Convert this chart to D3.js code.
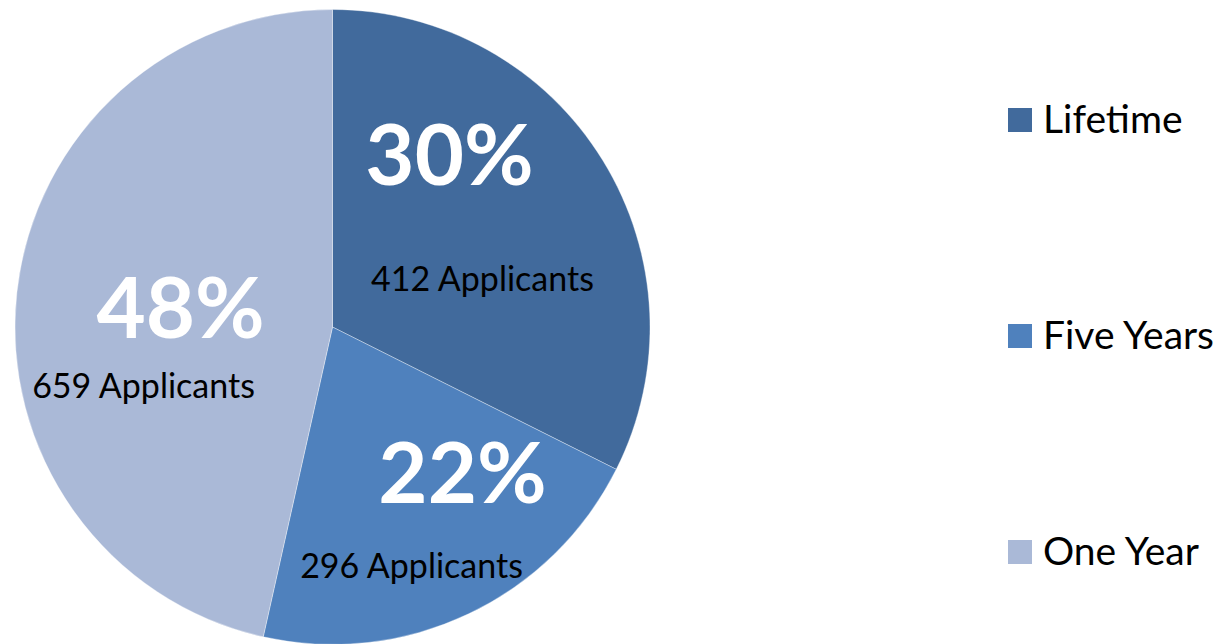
<!DOCTYPE html>
<html>
<head>
<meta charset="utf-8">
<script src="https://cdn.jsdelivr.net/npm/d3@7"></script>
<style>
  html, body { margin: 0; padding: 0; background: #ffffff; }
  svg { display: block; }
  text { font-family: Lato, "Noto Sans", sans-serif; }
</style>
</head>
<body>
<svg id="chart" width="1224" height="644"></svg>
<script>
// ---- data ----
const categories = ["Lifetime", "Five Years", "One Year"];
// share of the circle each slice occupies in the drawn pie (percent)
const sliceShare = [32.4, 21.1, 46.5];
// label texts as printed on the chart
const percentLabels = ["30%", "22%", "48%"];
const applicantCounts = [412, 296, 659];
const colors = ["#416A9C", "#4F81BD", "#AAB9D7"];

// ---- layout ----
const svg = d3.select("#chart");
const cx = 332.5, cy = 327, R = 317.5;

const pie = d3.pie().sort(null).value(d => d.share);
const data = categories.map((c, i) => ({ name: c, share: sliceShare[i], pct: percentLabels[i], n: applicantCounts[i], color: colors[i] }));
const arcs = pie(data);
const arc = d3.arc().innerRadius(0).outerRadius(R);

const g = svg.append("g").attr("transform", `translate(${cx},${cy})`);
g.selectAll("path")
  .data(arcs)
  .enter().append("path")
  .attr("d", arc)
  .attr("fill", d => d.data.color)
  .attr("stroke", "rgba(255,255,255,0.35)")
  .attr("stroke-width", 1);

// manually placed data labels (relative to pie centre)
const pctPos = [[117, -142], [130, 176], [-152, 11]];
const cntPos = [[150, -36], [79, 251], [-189, 71]];

g.selectAll("text.pct")
  .data(arcs)
  .enter().append("text")
  .attr("class", "pct")
  .attr("x", (d, i) => pctPos[i][0])
  .attr("y", (d, i) => pctPos[i][1])
  .attr("text-anchor", "middle")
  .attr("font-weight", 700)
  .attr("font-size", 85)
  .attr("fill", "#ffffff")
  .text(d => d.data.pct);

g.selectAll("text.cnt")
  .data(arcs)
  .enter().append("text")
  .attr("class", "cnt")
  .attr("x", (d, i) => cntPos[i][0])
  .attr("y", (d, i) => cntPos[i][1])
  .attr("text-anchor", "middle")
  .attr("font-size", 34)
  .attr("fill", "#000000")
  .text(d => `${d.data.n} Applicants`);

// ---- legend ----
const legendY = d3.scalePoint().domain(categories).range([120, 552]);
const lg = svg.append("g");
const items = lg.selectAll("g.item")
  .data(data)
  .enter().append("g")
  .attr("class", "item")
  .attr("transform", d => `translate(1008,${legendY(d.name)})`);
items.append("rect")
  .attr("x", 0).attr("y", -12)
  .attr("width", 24).attr("height", 24)
  .attr("fill", d => d.color);
items.append("text")
  .attr("x", 35).attr("y", 13)
  .attr("font-size", 39)
  .attr("fill", "#000000")
  .text(d => d.name);
</script>
</body>
</html>
